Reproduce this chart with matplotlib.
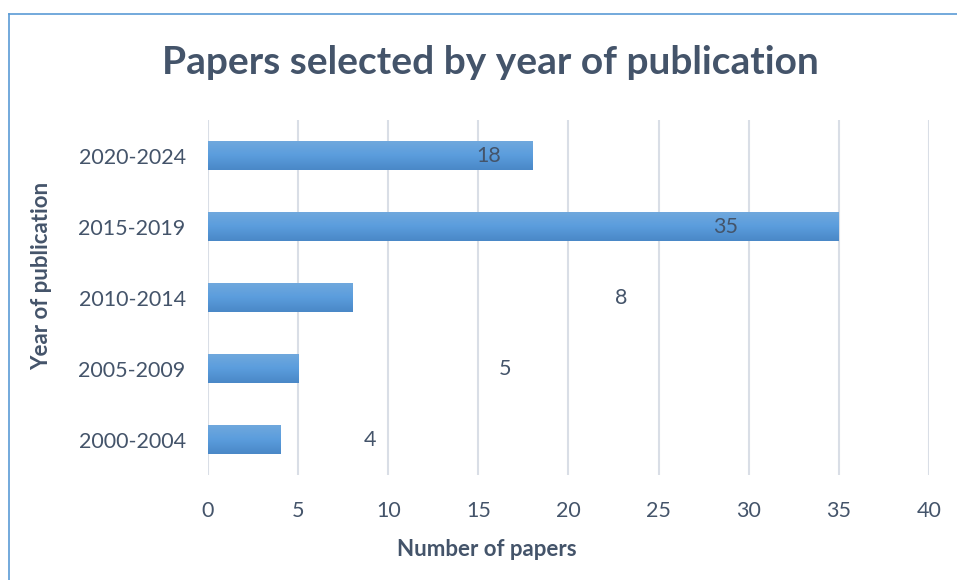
import matplotlib.pyplot as plt
import numpy as np
from matplotlib.lines import Line2D
from matplotlib.colors import LinearSegmentedColormap

# data
periods = ["2000-2004", "2005-2009", "2010-2014", "2015-2019", "2020-2024"]
papers = [4, 5, 8, 35, 18]
# where the value labels sit (in data units)
label_x = [9.0, 16.5, 22.9, 28.7, 15.6]

text_col = "#44546A"
plt.rcParams["font.family"] = ["Lato", "DejaVu Sans"]

fig = plt.figure(figsize=(9.57, 5.8), dpi=100)
ax = fig.add_axes([0.2173, 0.181, 0.7534, 0.612])

ypos = np.arange(len(periods))
bars = ax.barh(ypos, papers, height=0.41, color="#5B9BD5", zorder=2)

# vertical gradient inside each bar
grad = np.linspace(0, 1, 64).reshape(-1, 1)
cmap = LinearSegmentedColormap.from_list("g", ["#4A88C7", "#5B9DDD", "#71A9DD"])
for b in bars:
    x0, y0 = b.get_x(), b.get_y()
    im = ax.imshow(grad, cmap=cmap, aspect="auto", origin="lower",
                   extent=[x0, x0 + b.get_width(), y0, y0 + b.get_height()], zorder=3)
    im.set_clip_path(b)

for y, v, lx in zip(ypos, papers, label_x):
    ax.text(lx, y, str(v), ha="center", va="center", fontsize=15.5, color=text_col, zorder=4)

ax.set_xlim(0, 40)
ax.set_ylim(-0.5, 4.5)
ax.set_xticks(range(0, 41, 5))
ax.set_yticks(ypos)
ax.set_yticklabels(periods)
ax.grid(axis="x", color="#D9DEE6", linewidth=1.5, zorder=0)
ax.set_axisbelow(True)
for s in ax.spines.values():
    s.set_visible(False)
ax.tick_params(length=0, labelsize=15.5, labelcolor=text_col)
ax.tick_params(axis="x", pad=19)
ax.tick_params(axis="y", pad=16)

fig.text(0.512, 0.893, "Papers selected by year of publication", ha="center", va="center",
         fontsize=28, fontweight="bold", color=text_col)
fig.text(0.509, 0.053, "Number of papers", ha="center", va="center",
         fontsize=16, fontweight="bold", color=text_col)
fig.text(0.044, 0.525, "Year of publication", ha="center", va="center", rotation=90,
         fontsize=16, fontweight="bold", color=text_col)

# chart frame (top and left edges visible)
fig.add_artist(Line2D([0.0094, 1.0], [0.976, 0.976], color="#5B9BD5", linewidth=1.2))
fig.add_artist(Line2D([0.0094, 0.0094], [0.0, 0.976], color="#5B9BD5", linewidth=1.2))

fig.savefig("out.png", dpi=100)
